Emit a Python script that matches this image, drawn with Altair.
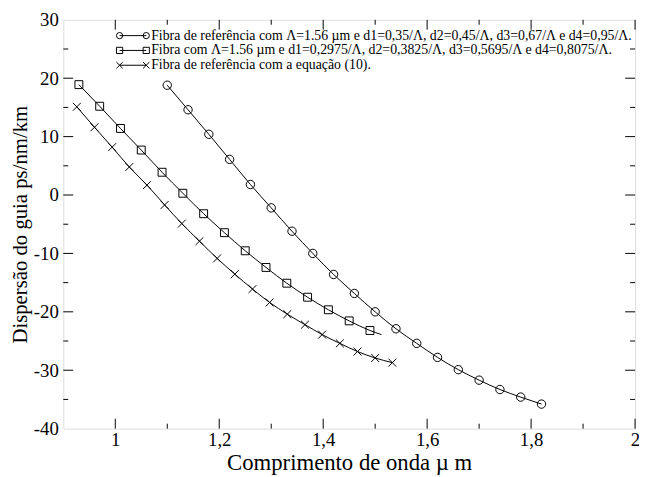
import altair as alt
import pandas as pd

# ---------------- data ----------------
circ_x = [1.10, 1.14, 1.18, 1.22, 1.26, 1.30, 1.34, 1.38, 1.42, 1.46,
          1.50, 1.54, 1.58, 1.62, 1.66, 1.70, 1.74, 1.78, 1.82]
circ_y = [18.8, 14.6, 10.4, 6.1, 1.8, -2.2, -6.2, -10.0, -13.6, -16.85,
          -20.0, -22.9, -25.4, -27.8, -29.9, -31.7, -33.3, -34.6, -35.8]

sq_x = [0.93, 0.97, 1.01, 1.05, 1.09, 1.13, 1.17, 1.21, 1.25, 1.29,
        1.33, 1.37, 1.41, 1.45, 1.49]
sq_y = [18.9, 15.2, 11.4, 7.7, 3.9, 0.3, -3.2, -6.45, -9.55, -12.4,
        -15.1, -17.5, -19.65, -21.55, -23.2]
sq_line_end_x = [1.512]
sq_line_end_y = [-23.9]

cross_x = [0.926, 0.960, 0.994, 1.027, 1.061, 1.095, 1.128, 1.162, 1.196, 1.230,
           1.264, 1.297, 1.331, 1.365, 1.398, 1.432, 1.466, 1.500, 1.533]
cross_y = [15.1, 11.6, 8.2, 4.8, 1.7, -1.7, -4.9, -7.9, -10.85, -13.55,
           -16.1, -18.4, -20.4, -22.2, -23.9, -25.4, -26.8, -27.9, -28.7]

legend_labels = [
    "Fibra de referência com Λ=1.56 µm e d1=0,35/Λ, d2=0,45/Λ, d3=0,67/Λ e d4=0,95/Λ.",
    "Fibra com Λ=1.56 µm e d1=0,2975/Λ, d2=0,3825/Λ, d3=0,5695/Λ e d4=0,8075/Λ.",
    "Fibra de referência  com a equação (10).",
]

x_major = [1.0, 1.2, 1.4, 1.6, 1.8, 2.0]
x_minor = [1.1, 1.3, 1.5, 1.7, 1.9]
y_major = [-30, -20, -10, 0, 10, 20]
y_minor = [-35, -25, -15, -5, 5, 15, 25]
y_labels = [-40, -30, -20, -10, 0, 10, 20, 30]

x_title = "Comprimento de onda µ m"
y_title = "Dispersão do guia ps/nm/km"

# ---------------- layout ----------------
W, H = 579, 414
FONT = "Liberation Serif"
CROSS = "M-1,-1L1,1M-1,1L1,-1"

xs = alt.Scale(domain=[0.9, 2.0], nice=False, zero=False)
ys = alt.Scale(domain=[-40, 30], nice=False, zero=False)

x_axis = alt.Axis(values=x_major, labelExpr="replace(format(datum.value, '.1~f'), '.', ',')",
                  ticks=False, domain=False, grid=False, labelFlush=False, labelOverlap=False,
                  labelFont=FONT, labelFontSize=19, labelColor="black", labelPadding=2,
                  title=x_title, titleFont=FONT, titleFontSize=23, titleFontWeight="normal",
                  titleColor="black", titlePadding=2)
y_axis = alt.Axis(values=y_labels, labelExpr="'' + datum.value", ticks=False, domain=False,
                  grid=False, labelFlush=False, labelOverlap=False,
                  labelFont=FONT, labelFontSize=19, labelColor="black", labelPadding=5,
                  title=y_title, titleFont=FONT, titleFontSize=21, titleFontWeight="normal",
                  titleColor="black", titlePadding=3)


def X(field="x"):
    return alt.X(f"{field}:Q", scale=xs, axis=x_axis)


def Y(field="y"):
    return alt.Y(f"{field}:Q", scale=ys, axis=y_axis)


circ = pd.DataFrame({"x": circ_x, "y": circ_y})
sq = pd.DataFrame({"x": sq_x, "y": sq_y})
sq_line = pd.DataFrame({"x": sq_x + sq_line_end_x, "y": sq_y + sq_line_end_y})
cr = pd.DataFrame({"x": cross_x, "y": cross_y})

layers = []
for df in (circ, sq_line, cr):
    layers.append(alt.Chart(df).mark_line(color="black", strokeWidth=1, interpolate="monotone")
                  .encode(x=X(), y=Y()))

layers.append(alt.Chart(circ).mark_point(shape="circle", filled=False, color="black",
                                         size=72, strokeWidth=1, opacity=1).encode(x=X(), y=Y()))
layers.append(alt.Chart(sq).mark_point(shape="square", filled=False, color="black",
                                       size=64, strokeWidth=1, opacity=1).encode(x=X(), y=Y()))
layers.append(alt.Chart(cr).mark_point(shape=CROSS, filled=False, color="black",
                                       size=64, strokeWidth=1, opacity=1).encode(x=X(), y=Y()))

# inward ticks on all four sides
xmaj = pd.DataFrame({"x": x_major})
xmin = pd.DataFrame({"x": x_minor})
ymaj = pd.DataFrame({"y": y_major})
ymin = pd.DataFrame({"y": y_minor})
for df, L in ((xmaj, 10), (xmin, 5)):
    layers.append(alt.Chart(df).mark_rule(color="black", strokeWidth=1)
                  .encode(x=X(), y=alt.value(H), y2=alt.value(H - L)))
    layers.append(alt.Chart(df).mark_rule(color="black", strokeWidth=1)
                  .encode(x=X(), y=alt.value(0), y2=alt.value(L)))
for df, L in ((ymaj, 10), (ymin, 5)):
    layers.append(alt.Chart(df).mark_rule(color="black", strokeWidth=1)
                  .encode(y=Y(), x=alt.value(0), x2=alt.value(L)))
    layers.append(alt.Chart(df).mark_rule(color="black", strokeWidth=1)
                  .encode(y=Y(), x=alt.value(W), x2=alt.value(W - L)))

# legend drawn in pixel space
one = pd.DataFrame({"k": [0]})
rows_y = [16, 31, 46]
shapes = ["circle", "square", CROSS]
sx1, sx2, tx = 57, 84, 89
for lab, ry, shp in zip(legend_labels, rows_y, shapes):
    layers.append(alt.Chart(one).mark_rule(color="black", strokeWidth=1)
                  .encode(x=alt.value(sx1), x2=alt.value(sx2), y=alt.value(ry)))
    for px in (sx1, sx2):
        layers.append(alt.Chart(one).mark_point(shape=shp, filled=False, color="black",
                                                size=40, strokeWidth=1, opacity=1)
                      .encode(x=alt.value(px), y=alt.value(ry)))
    layers.append(alt.Chart(one).mark_text(align="left", baseline="middle", font=FONT,
                                           fontSize=14, color="black")
                  .encode(x=alt.value(tx), y=alt.value(ry), text=alt.value(lab)))

chart = alt.layer(*layers).properties(
    width=W, height=H,
    autosize=alt.AutoSizeParams(type="none"),
    padding={"left": 56, "top": 9, "right": 4, "bottom": 44},
).configure_view(stroke="black", strokeWidth=1.5, fill="white").configure(background="white")

chart.save("out.html", embed_options={"renderer": "svg", "actions": False})
